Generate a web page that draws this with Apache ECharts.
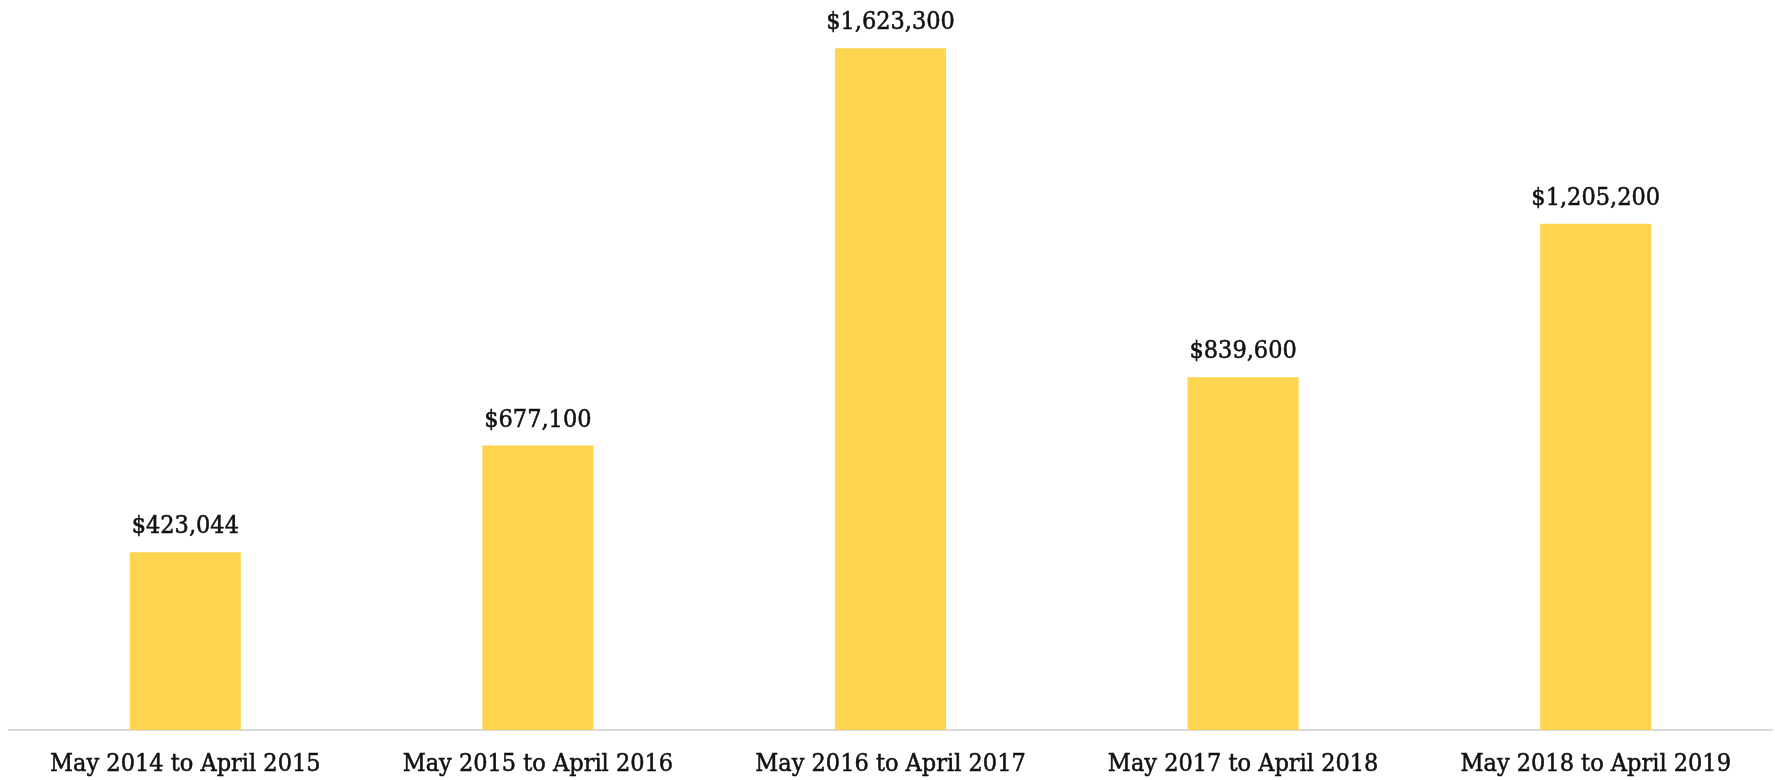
<!DOCTYPE html>
<html>
<head>
<meta charset="utf-8">
<script src="https://cdn.jsdelivr.net/npm/echarts@6/dist/echarts.min.js"></script>
<style>
  html, body { margin: 0; padding: 0; background: #ffffff; }
  #chart { width: 1775px; height: 780px; }
</style>
</head>
<body>
<div id="chart"></div>
<script>
// Annual totals by fiscal period (May to April)
const periods = [
  'May 2014 to April 2015',
  'May 2015 to April 2016',
  'May 2016 to April 2017',
  'May 2017 to April 2018',
  'May 2018 to April 2019'
];
const totals = [423044, 677100, 1623300, 839600, 1205200];

const fontFamily = '"DejaVu Serif Condensed", "DejaVu Serif", "Liberation Serif", serif';
const textColor = '#111111';

function dollars(v) {
  return '$' + v.toLocaleString('en-US');
}

const chart = echarts.init(document.getElementById('chart'));
chart.setOption({
  animation: false,
  grid: { left: 9, right: 3, top: 16, bottom: 50, containLabel: false },
  xAxis: {
    type: 'category',
    data: periods,
    axisLine: { show: true, lineStyle: { color: '#d9d9d9', width: 2 } },
    axisTick: { show: false },
    axisLabel: {
      color: textColor,
      fontFamily: fontFamily,
      fontSize: 25,
      margin: 22,
      interval: 0,
      textBorderColor: textColor,
      textBorderWidth: 0.5
    }
  },
  yAxis: {
    type: 'value',
    min: 0,
    max: 1700000,
    show: false,
    splitLine: { show: false }
  },
  series: [{
    type: 'bar',
    data: totals,
    barWidth: '31.5%',
    itemStyle: { color: '#FFD44F' },
    label: {
      show: true,
      position: 'top',
      distance: 13,
      color: textColor,
      fontFamily: fontFamily,
      fontSize: 25,
      textBorderColor: textColor,
      textBorderWidth: 0.5,
      formatter: p => dollars(p.value)
    }
  }]
});
</script>
</body>
</html>
